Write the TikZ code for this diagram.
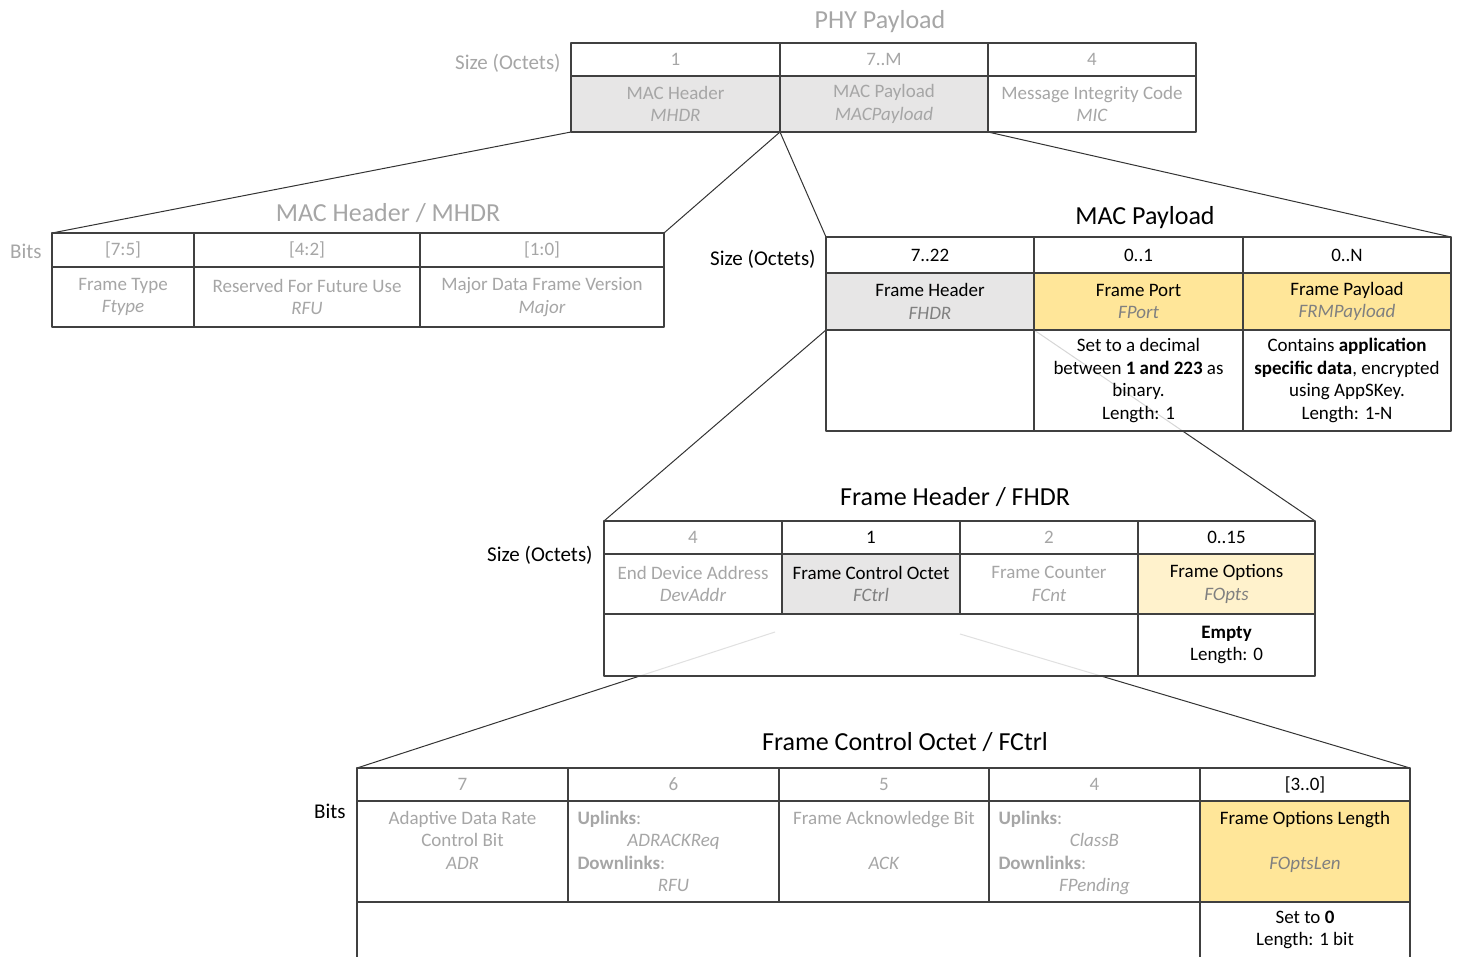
\documentclass[tikz,border=0pt]{standalone}
\usepackage{fontspec}
\setmainfont{Carlito}
\usepackage{tikz}
\usetikzlibrary{backgrounds}
\definecolor{linec}{rgb}{0.25,0.25,0.25}
\definecolor{txtgray}{rgb}{0.65,0.65,0.65}
\definecolor{txtmid}{rgb}{0.5,0.5,0.5}
\definecolor{greyfill}{rgb}{0.906,0.902,0.902}
\definecolor{yelfill}{rgb}{1.,0.902,0.6}
\definecolor{paleyel}{rgb}{1.,0.949,0.8}
\newcommand{\fieldid}[1]{{\color{txtmid}\itshape #1}}
\tikzset{every node/.style={font=\fontsize{9.5}{11.25}\selectfont},
  cell/.style 2 args={draw=linec,line width=0.75pt,fill=white,minimum width=#1*0.5pt,minimum height=#2*0.5pt,
    anchor=north west,inner sep=1pt,outer sep=0pt,align=center},
  faded/.style={text=txtgray},
  ttl/.style={font=\fontsize{13}{15}\selectfont,anchor=base},
  side/.style={font=\fontsize{10.5}{12}\selectfont,anchor=east,inner sep=0pt},
  conn/.style={draw=black!80,line width=0.5pt}}

\begin{document}
\begin{tikzpicture}[line cap=round,line join=round,x=0.5pt,y=-0.5pt]
\useasboundingbox (0,0) rectangle (1458,957);
\clip (0,0) rectangle (1458,957);

\node[ttl,text=txtgray] (phy-ttl) at (880,29) {PHY Payload};
\node[side,text=txtgray] (phy-side) at (561,63) {Size (Octets)};
\node[cell={209}{33},faded] (phy-h1) at (571,43) {1};
\node[cell={208}{33},faded] (phy-h2) at (780,43) {7..M};
\node[cell={208}{33},faded] (phy-h3) at (988,43) {4};
\node[cell={209}{56},faded,fill=greyfill] (phy-mhdr) at (571,76) {MAC Header\\\textit{MHDR}};
\node[cell={208}{56},faded,fill=greyfill] (phy-mac) at (780,76) {MAC Payload\\\textit{MACPayload}};
\node[cell={208}{56},faded] (phy-mic) at (988,76) {Message Integrity Code\\\textit{MIC}};

\node[ttl,text=txtgray] (mh-ttl) at (388,222) {MAC Header / MHDR};
\node[side,text=txtgray] (mh-side) at (42,251) {Bits};
\node[cell={142}{34},faded] (mh-b1) at (52,233) {[7:5]};
\node[cell={226}{34},faded] (mh-b2) at (194,233) {[4:2]};
\node[cell={244}{34},faded] (mh-b3) at (420,233) {[1:0]};
\node[cell={142}{60},faded] (mh-ftype) at (52,267) {Frame Type\\\textit{Ftype}};
\node[cell={226}{60},faded] (mh-rfu) at (194,267) {Reserved For Future Use\\\textit{RFU}};
\node[cell={244}{60},faded] (mh-major) at (420,267) {Major Data Frame Version\\\textit{Major}};

\node[ttl] (mp-ttl) at (1145,225) {MAC Payload};
\node[side] (mp-side) at (816,259) {Size (Octets)};
\node[cell={208}{36}] (mp-s1) at (826,237) {7..22};
\node[cell={209}{36}] (mp-s2) at (1034,237) {0..1};
\node[cell={208}{36}] (mp-s3) at (1243,237) {0..N};
\node[cell={208}{57},fill=greyfill] (mp-fhdr) at (826,273) {Frame Header\\\fieldid{FHDR}};
\node[cell={209}{57},fill=yelfill] (mp-fport) at (1034,273) {Frame Port\\\fieldid{FPort}};
\node[cell={208}{57},fill=yelfill] (mp-frm) at (1243,273) {Frame Payload\\\fieldid{FRMPayload}};
\node[cell={208}{101}] (mp-d1) at (826,330) {};
\node[cell={209}{101},fill opacity=0.8,text opacity=1] (mp-d2) at (1034,330) {Set to a decimal\\between \textbf{1 and 223} as\\binary.\\Length: 1};
\node[cell={208}{101}] (mp-d3) at (1243,330) {Contains \textbf{application}\\\textbf{specific data}, encrypted\\using AppSKey.\\Length: 1-N};

\node[ttl] (fh-ttl) at (955,506) {Frame Header / FHDR};
\node[side] (fh-side) at (593,555) {Size (Octets)};
\node[cell={178}{33},faded] (fh-s1) at (604,521) {4};
\node[cell={178}{33}] (fh-s2) at (782,521) {1};
\node[cell={178}{33},faded] (fh-s3) at (960,521) {2};
\node[cell={177}{33}] (fh-s4) at (1138,521) {0..15};
\node[cell={178}{60},faded] (fh-addr) at (604,554) {End Device Address\\\textit{DevAddr}};
\node[cell={178}{60},fill=greyfill] (fh-fctrl) at (782,554) {Frame Control Octet\\\fieldid{FCtrl}};
\node[cell={178}{60},faded] (fh-fcnt) at (960,554) {Frame Counter\\\textit{FCnt}};
\node[cell={177}{60},fill=paleyel] (fh-fopts) at (1138,554) {Frame Options\\\fieldid{FOpts}};
\node[cell={534}{62},fill opacity=0.85] (fh-d1) at (604,614) {};
\node[cell={177}{62}] (fh-empty) at (1138,614) {\textbf{Empty}\\Length: 0};
\coordinate (fc-l) at (775,632);
\coordinate (fc-r) at (960,634);

\node[ttl] (fc-ttl) at (905,750) {Frame Control Octet / FCtrl};
\node[side] (fc-side) at (346,811) {Bits};
\node[cell={211}{33},faded] (fc-b1) at (357,768) {7};
\node[cell={211}{33},faded] (fc-b2) at (568,768) {6};
\node[cell={210}{33},faded] (fc-b3) at (779,768) {5};
\node[cell={211}{33},faded] (fc-b4) at (989,768) {4};
\node[cell={210}{33}] (fc-b5) at (1200,768) {[3..0]};
\node[cell={211}{101},faded] (fc-adr) at (357,801) {Adaptive Data Rate\\Control Bit\\\textit{ADR}\\\mbox{}};
\node[cell={211}{101},faded] (fc-rack) at (568,801) {\makebox[96pt][l]{\textbf{Uplinks}:}\\\textit{ADRACKReq}\\\makebox[96pt][l]{\textbf{Downlinks}:}\\\textit{RFU}};
\node[cell={210}{101},faded] (fc-ack) at (779,801) {Frame Acknowledge Bit\\\mbox{}\\\textit{ACK}\\\mbox{}};
\node[cell={211}{101},faded] (fc-cls) at (989,801) {\makebox[96pt][l]{\textbf{Uplinks}:}\\\textit{ClassB}\\\makebox[96pt][l]{\textbf{Downlinks}:}\\\raisebox{0pt}[\height][0pt]{\textit{FPending}}};
\node[cell={210}{101},fill=yelfill] (fc-flen) at (1200,801) {Frame Options Length\\\mbox{}\\\fieldid{FOptsLen}\\\mbox{}};
\node[cell={843}{56}] (fc-d1) at (357,902) {};
\node[cell={210}{56}] (fc-set) at (1200,902) {Set to \textbf{0}\\Length: 1 bit};

\begin{pgfonlayer}{background}
\draw[conn] (phy-mhdr.south west) -- (mh-b1.north west);
\draw[conn] (phy-mhdr.south east) -- (mh-b3.north east);
\draw[conn] (phy-mac.south west) -- (mp-s1.north west);
\draw[conn] (phy-mac.south east) -- (mp-s3.north east);
\draw[conn] (mp-fhdr.south west) -- (fh-s1.north west);
\draw[conn] (mp-fhdr.south east) -- (fh-s4.north east);
\draw[conn] (fc-l) -- (fc-b1.north west);
\draw[conn] (fc-r) -- (fc-b5.north east);
\end{pgfonlayer}
\end{tikzpicture}
\end{document}
